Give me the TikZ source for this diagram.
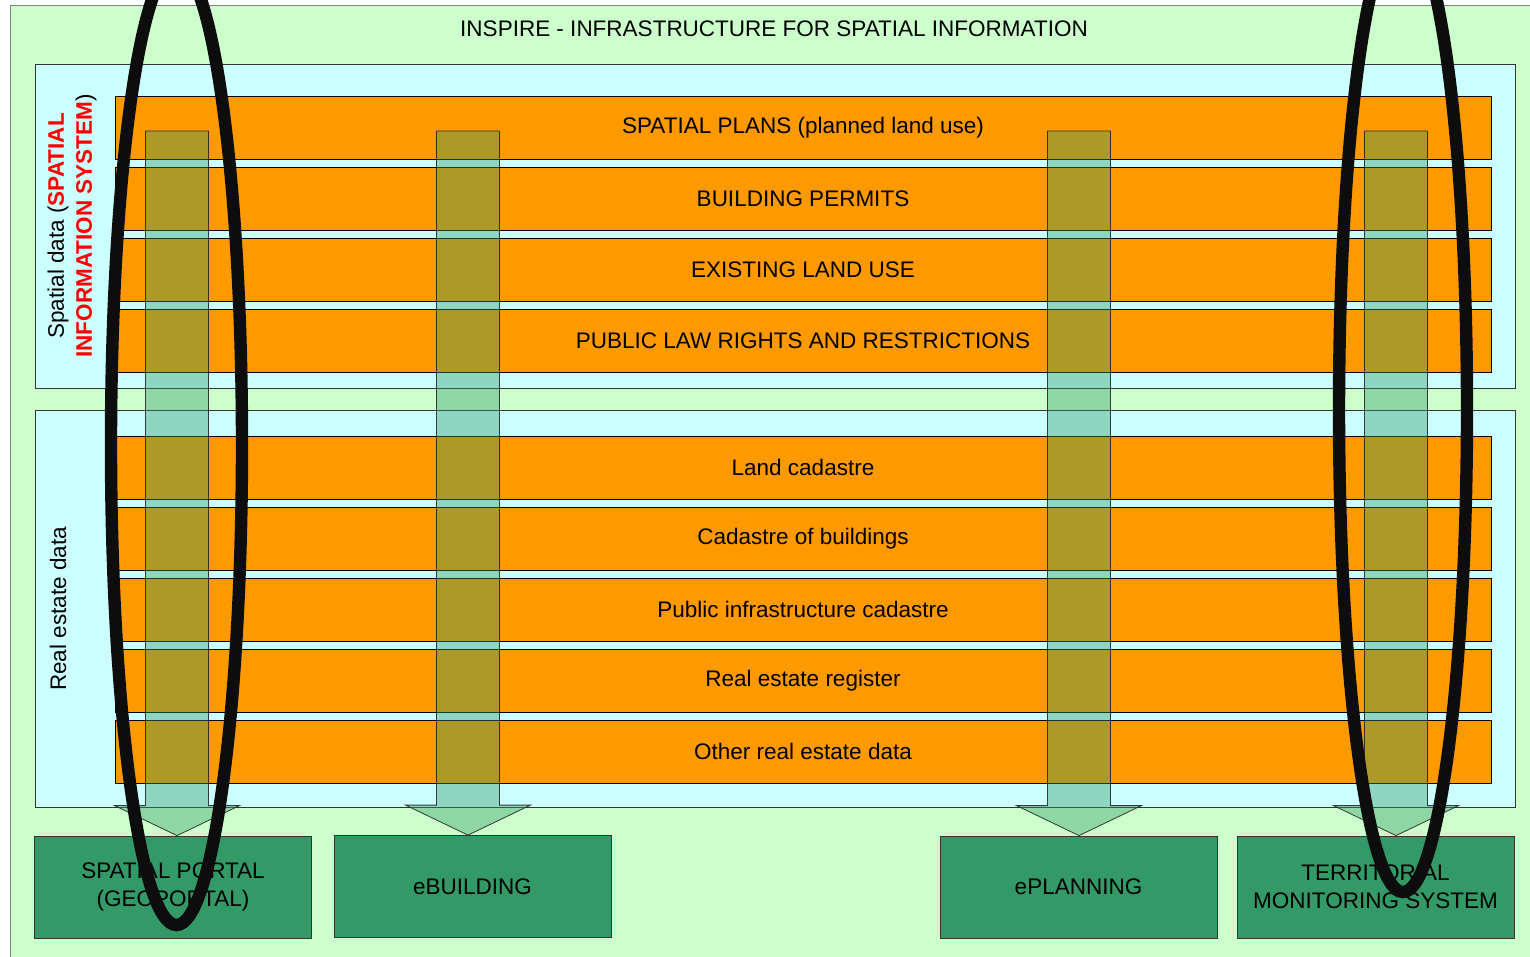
\documentclass[tikz,border=0pt]{standalone}
\usepackage{fontspec}
\setmainfont{Liberation Sans}
\usetikzlibrary{positioning,calc}

\definecolor{outergreen}{HTML}{CCFFCC}
\definecolor{panelcyan}{HTML}{CCFFFF}
\definecolor{layerorange}{HTML}{FF9900}
\definecolor{servicegreen}{HTML}{339966}

\begin{document}
\begin{tikzpicture}[x=0.5pt, y=-0.5pt,
    panel/.style={draw=black!80, fill=panelcyan},
    layer/.style={draw=black, fill=layerorange, minimum width=688pt, minimum height=31.5pt, inner sep=0pt, outer sep=0pt, font=\fontsize{11.25}{13}\selectfont},
    service/.style={draw=black!80, fill=servicegreen, minimum width=138.5pt, minimum height=51pt, inner sep=0pt, align=center, font=\fontsize{11.25}{14}\selectfont},
    flow/.style={draw=black!85, fill=servicegreen, fill opacity=0.4, draw opacity=0.9},
    marker/.style={draw=black!95, line width=6.2pt}]
    \clip (0,0) rectangle (1530,957);
    % Background and the two data panels
    \draw[draw=black!50, fill=outergreen] (10,5) rectangle (1545,975);
    \node[font=\fontsize{11.25}{13}\selectfont] (title) at (774,29) {INSPIRE - INFRASTRUCTURE FOR SPATIAL INFORMATION};
    \draw[panel] (35,64) rectangle (1515,388);
    \draw[panel] (35,410) rectangle (1515,807);
    \node[rotate=90, align=center, font=\fontsize{11.25}{14}\selectfont] (spatiallbl) at (72,226)
        {Spatial data ({\color{red}\bfseries SPATIAL}\\{\color{red}\bfseries INFORMATION SYSTEM})};
    \node[rotate=90, font=\fontsize{11.25}{13}\selectfont] (estatelbl) at (58,609) {Real estate data};
    % Spatial data layers
    \node[layer] (plans) at (803,127.5) {SPATIAL PLANS (planned land use)};
    \node[layer, below=4pt of plans] (permits) {BUILDING PERMITS};
    \node[layer, below=4pt of permits] (landuse) {EXISTING LAND USE};
    \node[layer, below=4pt of landuse] (rights) {PUBLIC LAW RIGHTS AND RESTRICTIONS};
    % Real estate layers
    \node[layer] (cadastre) at (803,467.5) {Land cadastre};
    \node[layer, below=4pt of cadastre] (buildings) {Cadastre of buildings};
    \node[layer, below=4pt of buildings] (infra) {Public infrastructure cadastre};
    \node[layer, below=4pt of infra] (register) {Real estate register};
    \node[layer, below=4pt of register] (otherdata) {Other real estate data};
    % Services
    \node[service] (portal) at (173,887) {SPATIAL PORTAL\\(GEOPORTAL)};
    \node[service] (ebuild) at (472.5,886.5) {eBUILDING};
    \node[service] (eplan) at (1078.5,887) {ePLANNING};
    \node[service] (monitor) at (1375.5,887) {TERRITORIAL\\MONITORING SYSTEM};
    % Block arrows from the layers down to the services
    \foreach \x/\target in {177/portal, 468/ebuild, 1079/eplan, 1396/monitor} {
        \coordinate (top) at ($(\x,0 |- plans.center)+(0,3.5)$);
        \coordinate (tip) at (\x,0 |- \target.north);
        \draw[flow] ($(top)+(-31.5,0)$) -- ($(top)+(31.5,0)$) -- ($(tip)+(31.5,-30)$)
            -- ($(tip)+(62.5,-30)$) -- (tip) -- ($(tip)+(-62.5,-30)$) -- ($(tip)+(-31.5,-30)$) -- cycle;
    }
    % Highlight rings
    \draw[marker] (176.5,445) ellipse [x radius=65.5, y radius=480];
    \draw[marker] (1403,410) ellipse [x radius=64, y radius=482];
\end{tikzpicture}
\end{document}
